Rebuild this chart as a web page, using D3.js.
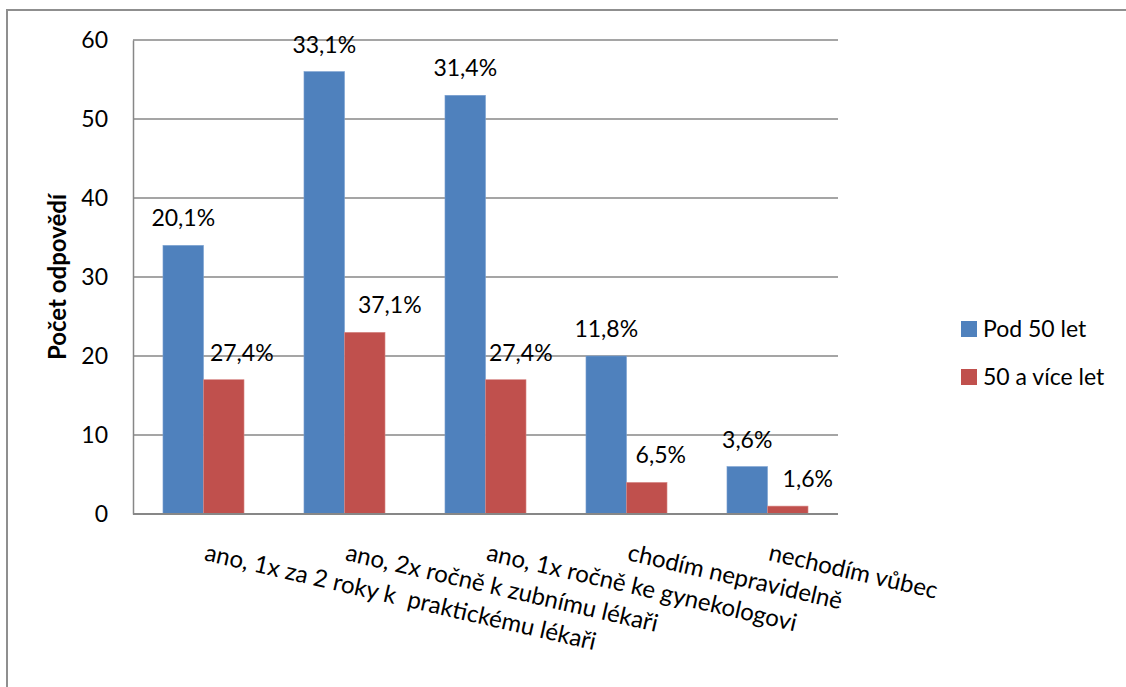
<!DOCTYPE html>
<html><head><meta charset="utf-8">
<script src="https://cdn.jsdelivr.net/npm/d3@7"></script>
<style>
body{margin:0;background:#fff;}
text{font-family:Lato,"Open Sans",sans-serif;fill:#000;white-space:pre;}
</style></head>
<body><svg id="c" width="1126" height="687"></svg>
<script>
const categories = ["ano, 1x za 2 roky k  praktickému lékaři","ano, 2x ročně k zubnímu lékaři","ano, 1x ročně ke gynekologovi","chodím nepravidelně","nechodím vůbec"];
const seriesNames = ["Pod 50 let","50 a více let"];
const under50 = [34,56,53,20,6];
const over50 = [17,23,17,4,1];
const under50Labels = ["20,1%","33,1%","31,4%","11,8%","3,6%"];
const over50Labels = ["27,4%","37,1%","27,4%","6,5%","1,6%"];
const yTicks = [0,10,20,30,40,50,60];
const colors = ["#4F81BD","#C0504D"];
// horizontal nudges of the data labels (style only)
const labelNudge = [[0,0,0,0,0],[18,25,15,14,20]];

const svg = d3.select("#c");
svg.append("rect").attr("x",7).attr("y",10).attr("width",1300).attr("height",1000)
  .attr("fill","none").attr("stroke","#8f8f8f").attr("stroke-width",2);

const L=133,R=838,T=40,B=514;
const x = d3.scaleBand().domain(categories).range([L,R]);
const xs = d3.scaleBand().domain(seriesNames).range([0,x.bandwidth()]).paddingInner(0).paddingOuter(0.74);
const y = d3.scaleLinear().domain([0,60]).range([B,T]);

svg.append("g").selectAll("line").data(yTicks.filter(d=>d>0)).join("line")
  .attr("x1",L).attr("x2",R).attr("y1",d=>y(d)).attr("y2",d=>y(d))
  .attr("stroke","#878787").attr("stroke-width",1.3);

const ya = svg.append("g").attr("transform",`translate(${L},0)`)
  .call(d3.axisLeft(y).tickValues(yTicks).tickSize(0).tickPadding(25));
ya.select(".domain").attr("stroke","#878787").attr("stroke-width",1.5);
ya.selectAll("text").style("font-size","23px").style("font-family","Lato");

const series = [under50, over50];
const labels = [under50Labels, over50Labels];
series.forEach((vals,si)=>{
  const g = svg.append("g");
  g.selectAll("rect").data(vals).join("rect")
    .attr("x",(d,i)=>x(categories[i])+xs(seriesNames[si]))
    .attr("width",xs.bandwidth())
    .attr("y",d=>y(d)).attr("height",d=>B-y(d))
    .attr("fill",colors[si]).attr("stroke", si===0?"#7aa0d0":"#d88a88").attr("stroke-width",0.6);
  g.selectAll("text").data(vals).join("text")
    .attr("x",(d,i)=>x(categories[i])+xs(seriesNames[si])+xs.bandwidth()/2+labelNudge[si][i])
    .attr("y",d=>y(d)-19).attr("text-anchor","middle")
    .style("font-size","23px").text((d,i)=>labels[si][i]);
});
svg.append("line").attr("x1",L).attr("x2",R).attr("y1",B).attr("y2",B).attr("stroke","#878787").attr("stroke-width",2);

svg.append("g").selectAll("text").data(categories).join("text")
  .attr("transform",d=>`translate(${x(d)+x.bandwidth()/2},560) rotate(13)`)
  .attr("text-anchor","start")
  .style("font-size","24px").text(d=>d);

svg.append("text").attr("transform","translate(66,277) rotate(-90)")
  .attr("text-anchor","middle").style("font-size","24px").style("font-weight","bold").text("Počet odpovědí");

const lg = svg.append("g");
seriesNames.forEach((s,i)=>{
  lg.append("rect").attr("x",961).attr("y",321+i*48).attr("width",16).attr("height",16).attr("fill",colors[i]);
  lg.append("text").attr("x",983).attr("y",337+i*48).style("font-size","23px").text(s);
});
</script></body></html>
